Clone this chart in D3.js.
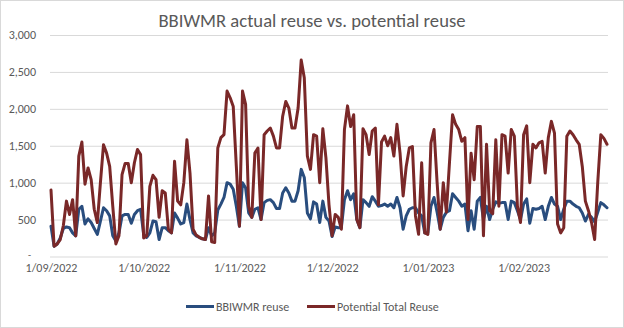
<!DOCTYPE html>
<html>
<head>
<meta charset="utf-8">
<script src="https://cdn.jsdelivr.net/npm/d3@7"></script>
<style>
  body { margin: 0; background: #fff; }
  svg text { font-family: Carlito, Lato, sans-serif; fill: #595959; }
</style>
</head>
<body>
<div id="chart"></div>
<script>
// daily series, first value is 1 Sep 2022
const startDay = "2022-09-01";

const reuse = [
  410, 140, 170, 250, 380, 400, 390, 320, 280, 640,
  680, 440, 510, 460, 380, 300, 480, 660, 620, 550,
  280, 210, 320, 550, 570, 570, 450, 570, 620, 640,
  300, 260, 320, 480, 470, 230, 390, 390, 350, 320,
  590, 520, 440, 460, 710, 500, 320, 280, 260, 240,
  230, 390, 280, 320, 630, 710, 800, 1000, 980, 910,
  680, 410, 1000, 930, 590, 530, 640, 660, 500, 730,
  760, 770, 730, 650, 650, 860, 930, 860, 750, 750,
  890, 1180, 1070, 590, 510, 740, 710, 460, 750, 530,
  480, 270, 400, 390, 390, 770, 890, 770, 850, 500,
  390, 770, 730, 680, 810, 750, 680, 690, 710, 680,
  710, 660, 800, 660, 370, 550, 640, 660, 660, 590,
  550, 320, 320, 680, 800, 600, 370, 530, 600, 620,
  850, 800, 750, 680, 710, 350, 620, 370, 750, 800,
  500, 680, 500, 640, 740, 720, 730, 730, 500, 750,
  730, 620, 500, 710, 780, 450, 650, 640, 650, 680,
  500, 680, 800, 710, 680, 500, 640, 750, 750, 710,
  680, 660, 590, 480, 570, 530, 470, 600, 730, 700,
  660
];

const potential = [
  900, 140, 170, 230, 420, 750, 570, 770, 280, 1360,
  1550, 980, 1200, 1040, 640, 460, 1000, 1515, 1400, 1220,
  680, 170, 280, 1110, 1260, 1260, 1000, 1270, 1450, 1380,
  250, 280, 950, 1100, 1040, 530, 890, 860, 370, 320,
  1290, 750, 700, 1000, 1580, 1130, 370, 290, 260, 240,
  230, 820, 200, 190, 1470, 1610, 1650, 2240, 2150, 2030,
  1220, 410, 2240, 2060, 680, 530, 1400, 1470, 500, 1650,
  1700, 1740, 1630, 1470, 1470, 1900, 2100, 2010, 1740, 1740,
  2010, 2660, 2420, 1360, 1180, 1650, 1630, 1000, 1730, 1340,
  700, 280, 570, 530, 370, 1720, 2040, 1760, 1920, 500,
  390, 1730, 1650, 1380, 1700, 1740, 700, 1550, 1630, 1500,
  1610, 1360, 1790, 1400, 820, 1220, 1470, 1490, 550, 300,
  1270, 320, 300, 1540, 1720, 1000, 370, 1000, 600, 1270,
  1920, 1790, 1720, 1560, 1610, 500, 1400, 1040, 1760, 1760,
  280, 1520, 620, 580, 1580, 680, 1650, 1630, 1130, 1720,
  1630, 680, 460, 1650, 1770, 1000, 1520, 1470, 1540, 1560,
  1130, 1610, 1830, 1670, 440, 320, 390, 1630, 1700, 1650,
  1580, 1520, 1220, 750, 620, 460, 230, 1000, 1650, 1600,
  1520
];

const yTicks = [0, 500, 1000, 1500, 2000, 2500, 3000];
const monthTicks = ["2022-09-01", "2022-10-01", "2022-11-01", "2022-12-01", "2023-01-01", "2023-02-01"];

const seriesNames = ["BBIWMR reuse", "Potential Total Reuse"];
const seriesColors = ["#294d7e", "#7a2828"];

const width = 624,
  height = 328;

const parseDay = d3.timeParse("%Y-%m-%d");
const start = parseDay(startDay);
const days = reuse.map((v, i) => d3.timeDay.offset(start, i));

const svg = d3
  .select("#chart")
  .append("svg")
  .attr("width", width)
  .attr("height", height);

// chart area border
svg
  .append("rect")
  .attr("x", 0.5)
  .attr("y", 0.5)
  .attr("width", width - 1)
  .attr("height", height - 1)
  .attr("fill", "#fff")
  .attr("stroke", "#d9d9d9");

const x = d3
  .scaleTime()
  .domain([start, days[days.length - 1]])
  .range([51, 607]);

const y = d3.scaleLinear().domain([0, 3000]).range([256.5, 35]);

// y axis + gridlines
const yAxis = svg
  .append("g")
  .attr("transform", "translate(50,0)")
  .call(
    d3
      .axisLeft(y)
      .tickValues(yTicks)
      .tickSize(-558)
      .tickPadding(14)
      .tickFormat((d) => (d === 0 ? "-" : d3.format(",")(d)))
  );
yAxis.select(".domain").remove();
yAxis.selectAll(".tick line").attr("stroke", "#d9d9d9");
yAxis
  .selectAll(".tick text")
  .style("font-size", "12px")
  .attr("x", (d) => (d === 0 ? -19 : -14));
// the zero dash sits a little higher so it clears the date labels
yAxis
  .selectAll(".tick text")
  .filter((d) => d === 0)
  .style("font-size", "10px")
  .attr("y", -2);

// x axis, monthly labels
const xAxis = svg
  .append("g")
  .attr("transform", "translate(0,256.5)")
  .call(
    d3
      .axisBottom(x)
      .tickValues(monthTicks.map(parseDay))
      .tickSize(0)
      .tickPadding(7)
      .tickFormat(d3.timeFormat("%-d/%m/%Y"))
  );
xAxis.select(".domain").remove();
xAxis.selectAll(".tick text").style("font-size", "12px");

const line = d3
  .line()
  .x((d, i) => x(days[i]))
  .y((d) => y(d));

[reuse, potential].forEach((series, k) => {
  svg
    .append("path")
    .datum(series)
    .attr("fill", "none")
    .attr("stroke", seriesColors[k])
    .attr("stroke-width", 3)
    .attr("stroke-linejoin", "round")
    .attr("stroke-linecap", "round")
    .attr("d", line);
});

// title, sized to its box
const title = svg
  .append("text")
  .attr("x", 312)
  .attr("y", 27)
  .attr("text-anchor", "middle")
  .style("font-size", "18.7px")
  .text("BBIWMR actual reuse vs. potential reuse");
const tw = title.node().getComputedTextLength();
title.style("font-size", (18.7 * 307) / tw + "px");

// legend
const legendX = [186, 307];
seriesNames.forEach((name, k) => {
  const g = svg.append("g").attr("transform", `translate(${legendX[k]},306.5)`);
  g.append("line")
    .attr("x1", 0)
    .attr("x2", 28)
    .attr("stroke", seriesColors[k])
    .attr("stroke-width", 3);
  g.append("text")
    .attr("x", 30)
    .attr("dy", "0.35em")
    .style("font-size", "12px")
    .text(name);
});
</script>
</body>
</html>
